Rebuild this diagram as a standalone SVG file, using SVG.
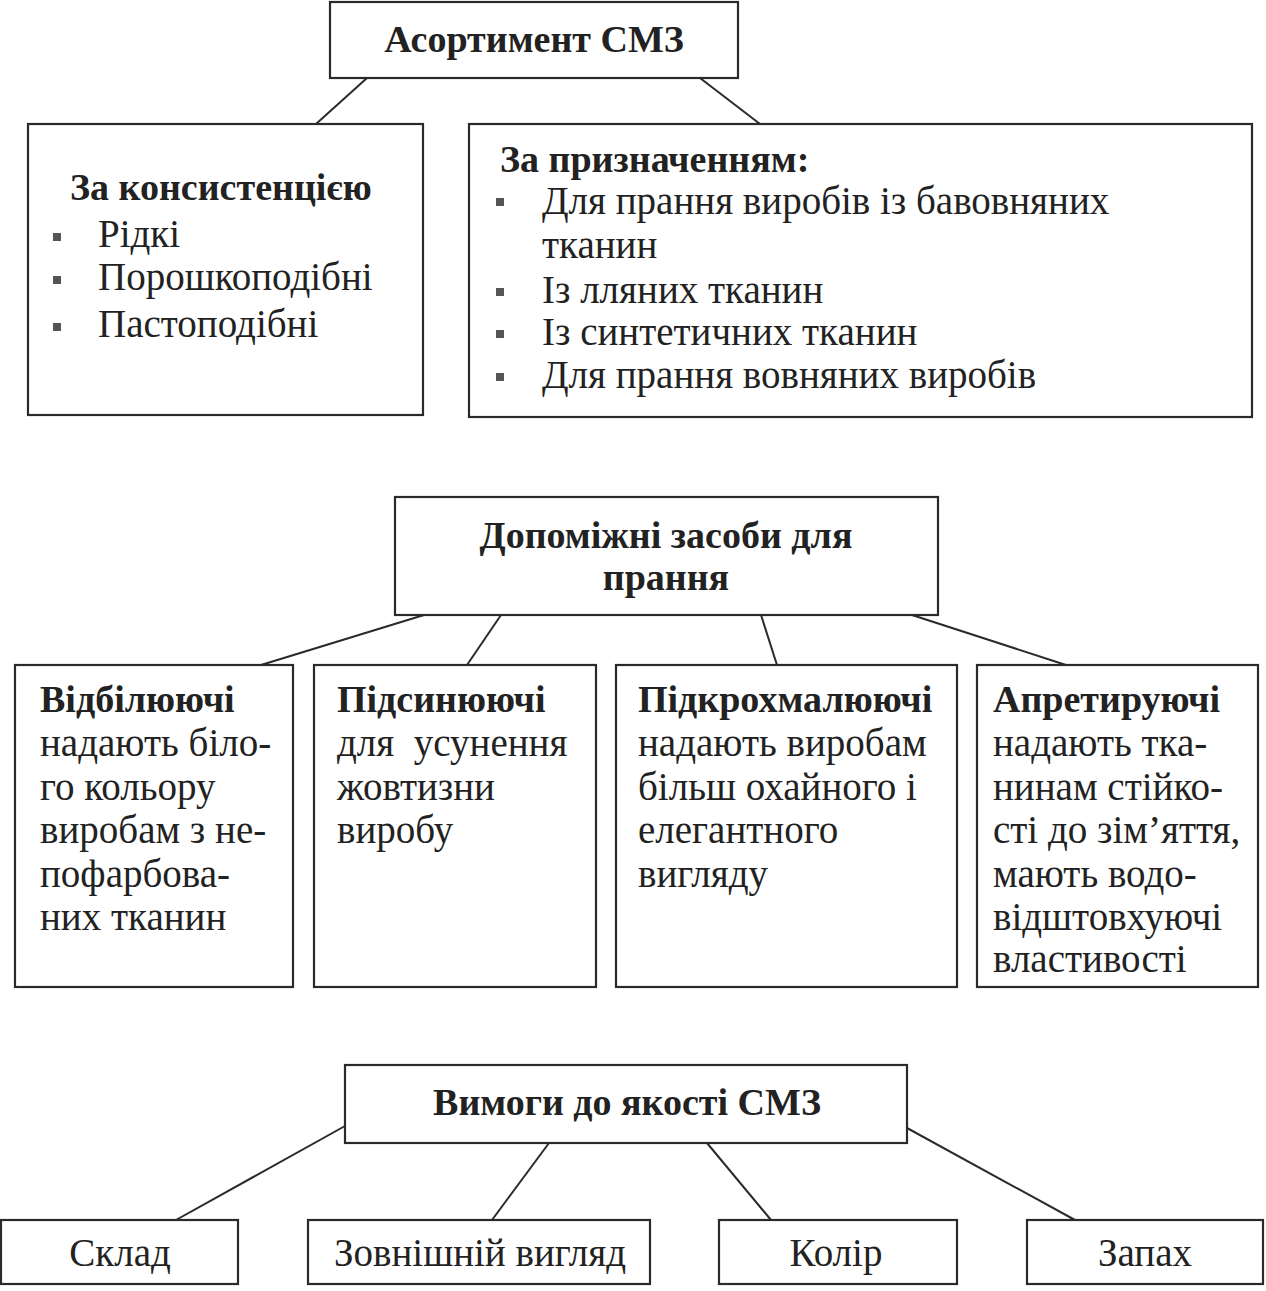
<svg xmlns="http://www.w3.org/2000/svg" width="1266" height="1291" viewBox="0 0 1266 1291">
<style>
.box{fill:#fff;stroke:#2a2a2a;stroke-width:2.2}
.t{font-family:"Liberation Serif","Times New Roman",serif;font-size:39px;fill:#222}
.b{font-family:"Liberation Serif","Times New Roman",serif;font-size:38px;font-weight:bold;fill:#222}
.c{text-anchor:middle}
.bul{fill:#555}
.ln{stroke:#2a2a2a;stroke-width:2;fill:none}
</style>
<rect x="0" y="0" width="1266" height="1291" fill="#fff"/>
<g id="connectors">
<line class="ln" x1="367" y1="78" x2="316" y2="124"/>
<line class="ln" x1="700" y1="78" x2="760" y2="124"/>
<line class="ln" x1="424" y1="615" x2="261" y2="665"/>
<line class="ln" x1="501" y1="615" x2="467" y2="665"/>
<line class="ln" x1="761" y1="615" x2="777" y2="665"/>
<line class="ln" x1="912" y1="615" x2="1066" y2="665"/>
<line class="ln" x1="345" y1="1126" x2="176" y2="1220"/>
<line class="ln" x1="549" y1="1143" x2="492" y2="1220"/>
<line class="ln" x1="707" y1="1143" x2="771" y2="1220"/>
<line class="ln" x1="907" y1="1128" x2="1075" y2="1220"/>
</g>
<g id="n-assortment">
<rect class="box" x="330" y="2" width="408" height="76"/>
<text class="b c" x="534" y="52">Асортимент СМЗ</text>
</g>
<g id="n-consistency">
<rect class="box" x="28" y="124" width="395" height="291"/>
<text class="b" x="70" y="200">За консистенцією</text>
<rect class="bul" x="53" y="233" width="8" height="8"/>
<text class="t" x="98" y="247">Рідкі</text>
<rect class="bul" x="53" y="276" width="8" height="8"/>
<text class="t" x="98" y="290">Порошкоподібні</text>
<rect class="bul" x="53" y="323" width="8" height="8"/>
<text class="t" x="98" y="337">Пастоподібні</text>
</g>
<g id="n-purpose">
<rect class="box" x="469" y="124" width="783" height="293"/>
<text class="b" x="500" y="172">За призначенням:</text>
<rect class="bul" x="496" y="198" width="8" height="8"/>
<text class="t" x="542" y="214">Для прання виробів із бавовняних</text>
<text class="t" x="542" y="258">тканин</text>
<rect class="bul" x="496" y="288" width="8" height="8"/>
<text class="t" x="542" y="303">Із лляних тканин</text>
<rect class="bul" x="496" y="330" width="8" height="8"/>
<text class="t" x="542" y="345">Із синтетичних тканин</text>
<rect class="bul" x="496" y="373" width="8" height="8"/>
<text class="t" x="542" y="388">Для прання вовняних виробів</text>
</g>
<g id="n-auxiliary">
<rect class="box" x="395" y="497" width="543" height="118"/>
<text class="b c" x="666" y="548">Допоміжні засоби для</text>
<text class="b c" x="666" y="590">прання</text>
</g>
<g id="n-bleaching">
<rect class="box" x="15" y="665" width="278" height="322"/>
<text class="b" x="40" y="712">Відбілюючі</text>
<text class="t" x="40" y="756">надають біло-</text>
<text class="t" x="40" y="800">го кольору</text>
<text class="t" x="40" y="843">виробам з не-</text>
<text class="t" x="40" y="887">пофарбова-</text>
<text class="t" x="40" y="930">них тканин</text>
</g>
<g id="n-bluing">
<rect class="box" x="314" y="665" width="282" height="322"/>
<text class="b" x="337" y="712">Підсинюючі</text>
<text class="t" x="337" y="756" xml:space="preserve">для  усунення</text>
<text class="t" x="337" y="800">жовтизни</text>
<text class="t" x="337" y="843">виробу</text>
</g>
<g id="n-starching">
<rect class="box" x="616" y="665" width="341" height="322"/>
<text class="b" x="638" y="712">Підкрохмалюючі</text>
<text class="t" x="638" y="756">надають виробам</text>
<text class="t" x="638" y="800">більш охайного і</text>
<text class="t" x="638" y="843">елегантного</text>
<text class="t" x="638" y="887">вигляду</text>
</g>
<g id="n-finishing">
<rect class="box" x="977" y="665" width="281" height="322"/>
<text class="b" x="993" y="712">Апретируючі</text>
<text class="t" x="993" y="756">надають тка-</text>
<text class="t" x="993" y="800">нинам стійко-</text>
<text class="t" x="993" y="843">сті до зім’яття,</text>
<text class="t" x="993" y="887">мають водо-</text>
<text class="t" x="993" y="930">відштовхуючі</text>
<text class="t" x="993" y="972">властивості</text>
</g>
<g id="n-requirements">
<rect class="box" x="345" y="1065" width="562" height="78"/>
<text class="b c" x="627" y="1115">Вимоги до якості СМЗ</text>
</g>
<g id="n-composition">
<rect class="box" x="1" y="1220" width="237" height="64"/>
<text class="t c" x="120" y="1266">Склад</text>
</g>
<g id="n-appearance">
<rect class="box" x="308" y="1220" width="342" height="64"/>
<text class="t c" x="480" y="1266">Зовнішній вигляд</text>
</g>
<g id="n-colour">
<rect class="box" x="719" y="1220" width="238" height="64"/>
<text class="t c" x="836" y="1266">Колір</text>
</g>
<g id="n-smell">
<rect class="box" x="1027" y="1220" width="236" height="64"/>
<text class="t c" x="1145" y="1266">Запах</text>
</g>
</svg>
